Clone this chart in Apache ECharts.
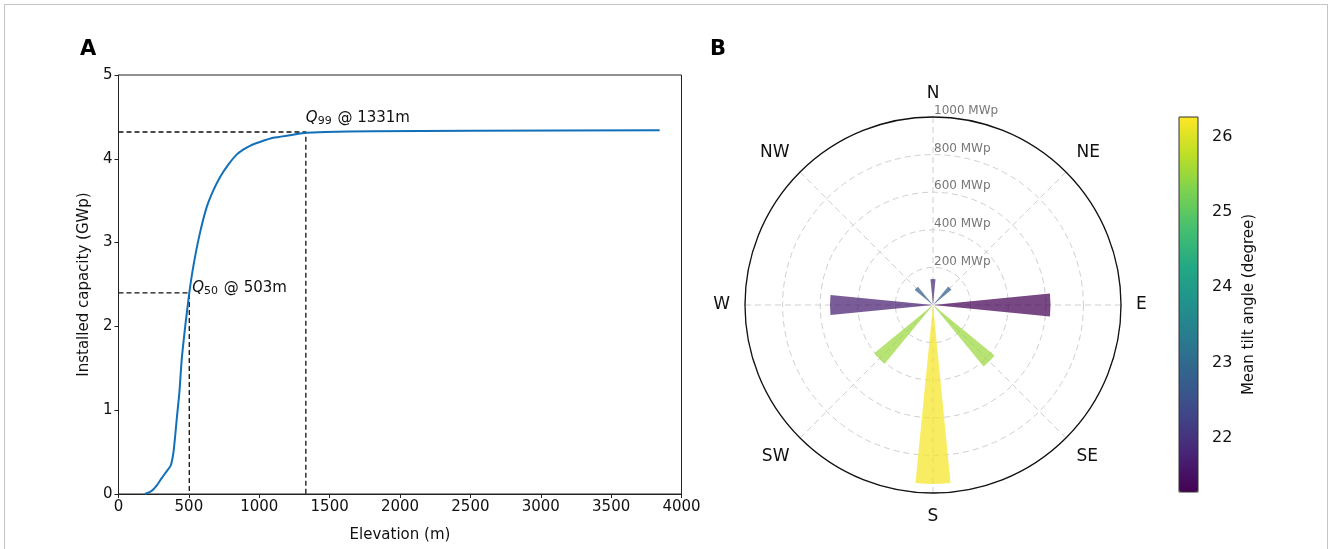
<!DOCTYPE html>
<html>
<head>
<meta charset="utf-8">
<script src="https://cdn.jsdelivr.net/npm/echarts@6/dist/echarts.min.js"></script>
<style>
html,body{margin:0;padding:0;background:#fff;}
#chart{position:absolute;left:0;top:0;width:1328px;height:549px;}
#frame{position:absolute;left:4px;top:4px;width:1322px;height:560px;border:1px solid #c4c4c4;pointer-events:none;}
</style>
</head>
<body>
<div id="chart"></div>
<div id="frame"></div>
<script>
// ---- Panel A: cumulative installed capacity vs elevation ----
const elevation = [188, 230, 250, 271, 307, 342, 371, 389, 402, 414, 432, 449, 474, 503, 531, 574, 626, 673, 721, 780, 839, 886, 934, 1005, 1099, 1218, 1331, 1470, 1800, 2500, 3845];
const capacityGWp = [0, 0.03, 0.06, 0.10, 0.19, 0.27, 0.34, 0.48, 0.68, 0.90, 1.20, 1.60, 2.00, 2.40, 2.71, 3.08, 3.42, 3.62, 3.78, 3.93, 4.05, 4.11, 4.155, 4.20, 4.25, 4.28, 4.31, 4.32, 4.33, 4.335, 4.34];
const q50 = {elev: 503, cap: 2.40, label: '50'};
const q99 = {elev: 1331, cap: 4.32, label: '99'};
const xTicks = [0, 4000, 500];
const yTicks = [0, 5, 1];

// ---- Panel B: orientation rose ----
const directions = ['N', 'NE', 'E', 'SE', 'S', 'SW', 'W', 'NW'];
const capacityMWp = [138, 127, 625, 424, 952, 405, 548, 126];
const meanTilt = [21.9, 22.8, 21.3, 25.5, 26.2, 25.5, 21.7, 22.8];
const radiusTicks = [0, 1000, 200];
const tiltRange = [21.28, 26.26];
const tiltTicks = [22, 23, 24, 25, 26];

const viridis = ['#440154','#482475','#414487','#355f8d','#2a788e','#21918c','#22a884','#44bf70','#7ad151','#bddf26','#fde725'];
const FONT = 'DejaVu Sans';

const chart = echarts.init(document.getElementById('chart'), null, {renderer: 'canvas'});

const lineData = elevation.map((e, i) => [e, capacityGWp[i]]);
function dashed(q) { return [[0, q.cap], [q.elev, q.cap], [q.elev, 0]]; }
const richQ = {
  q: {fontFamily: FONT, fontSize: 15, fontStyle: 'italic', color: '#111'},
  s: {fontFamily: FONT, fontSize: 11, color: '#111', verticalAlign: 'bottom', padding: [6, 1, 0, 0]},
  t: {fontFamily: FONT, fontSize: 15, color: '#111'}
};
function qLabel(q) { return '{q|Q}{s|' + q.label + '}{t| @ ' + q.elev + 'm}'; }

const option = {
  animation: false,
  backgroundColor: '#fff',
  textStyle: {fontFamily: FONT},
  title: [
    {text: 'A', left: 75, top: 34, textStyle: {fontFamily: FONT, fontSize: 21, fontWeight: 'bold', color: '#000'}},
    {text: 'B', left: 705, top: 34, textStyle: {fontFamily: FONT, fontSize: 21, fontWeight: 'bold', color: '#000'}}
  ],
  grid: [
    {left: 118.5, top: 75, width: 563, height: 419, show: true, borderColor: '#222', borderWidth: 1, backgroundColor: 'transparent'},
    {left: 1179, top: 117, width: 19, height: 375, show: true, borderColor: '#333', borderWidth: 1, backgroundColor: 'transparent', z: 10}
  ],
  xAxis: [
    {gridIndex: 0, type: 'value', min: xTicks[0], max: xTicks[1], interval: xTicks[2],
     name: 'Elevation (m)', nameLocation: 'middle', nameGap: 34,
     nameTextStyle: {fontFamily: FONT, fontSize: 15, color: '#111'},
     axisLine: {show: true, lineStyle: {color: '#222', width: 1}},
     axisTick: {show: true, length: 4, inside: false, lineStyle: {color: '#222'}},
     axisLabel: {fontFamily: FONT, fontSize: 15, color: '#111', margin: 6, formatter: v => String(v)},
     splitLine: {show: false}},
    {gridIndex: 1, type: 'value', show: false, min: 0, max: 1}
  ],
  yAxis: [
    {gridIndex: 0, type: 'value', min: yTicks[0], max: yTicks[1], interval: yTicks[2],
     name: 'Installed capacity (GWp)', nameLocation: 'middle', nameGap: 27,
     nameTextStyle: {fontFamily: FONT, fontSize: 15, color: '#111'},
     axisLine: {show: true, lineStyle: {color: '#222', width: 1}},
     axisTick: {show: true, length: 4, inside: false, lineStyle: {color: '#222'}},
     axisLabel: {fontFamily: FONT, fontSize: 15, color: '#111', margin: 6},
     splitLine: {show: false}},
    {gridIndex: 1, type: 'value', position: 'right', min: tiltRange[0], max: tiltRange[1],
     name: 'Mean tilt angle (degree)', nameLocation: 'middle', nameGap: 44, nameRotate: 90,
     nameTextStyle: {fontFamily: FONT, fontSize: 15, color: '#111'},
     axisLine: {show: false},
     axisTick: {show: true, length: 4, inside: false, customValues: tiltTicks, lineStyle: {color: '#222'}},
     axisLabel: {fontFamily: FONT, fontSize: 16, color: '#111', margin: 14, customValues: tiltTicks},
     splitLine: {show: false}}
  ],
  polar: [
    {center: [933, 305], radius: 188},
    {center: [933, 305], radius: 188}
  ],
  angleAxis: [
    {polarIndex: 0, type: 'category', data: directions, startAngle: 112.5, clockwise: true, show: false},
    {polarIndex: 1, type: 'value', min: 0, max: 360, interval: 45, startAngle: 90, clockwise: true, z: 2,
     axisLine: {show: true, lineStyle: {color: '#111', width: 1.3, type: 'solid'}},
     axisTick: {show: false},
     axisLabel: {show: true, margin: 15, fontFamily: FONT, fontSize: 17, color: '#111',
       formatter: v => (v < 360 ? directions[Math.round(v / 45)] : '')},
     splitLine: {show: true, lineStyle: {color: '#cfcfcf', type: [6, 4], width: 1}}}
  ],
  radiusAxis: [
    {polarIndex: 0, type: 'value', min: radiusTicks[0], max: radiusTicks[1], show: false},
    {polarIndex: 1, type: 'value', min: radiusTicks[0], max: radiusTicks[1], interval: radiusTicks[2],
     axisLine: {show: false}, axisTick: {show: false},
     axisLabel: {show: true, fontFamily: FONT, fontSize: 12, color: '#777', align: 'left', verticalAlign: 'bottom', margin: -1,
       formatter: v => (v === 0 ? '' : v + ' MWp')},
     splitLine: {show: true, lineStyle: {color: '#cfcfcf', type: [6, 4], width: 1}},
     z: 1}
  ],
  visualMap: [{
    type: 'continuous', seriesIndex: 4, dimension: 2,
    min: tiltRange[0], max: tiltRange[1],
    inRange: {color: viridis},
    left: 1179, top: 117, itemWidth: 19, itemHeight: 375, padding: 0,
    calculable: false, text: null, showLabel: false, orient: 'vertical'
  }],
  series: [
    {type: 'line', xAxisIndex: 0, yAxisIndex: 0, data: dashed(q50), symbol: 'none', silent: true,
     lineStyle: {color: '#111', width: 1.3, type: [5, 3]}, z: 1},
    {type: 'line', xAxisIndex: 0, yAxisIndex: 0, data: dashed(q99), symbol: 'none', silent: true,
     lineStyle: {color: '#111', width: 1.3, type: [5, 3]}, z: 1},
    {type: 'line', xAxisIndex: 0, yAxisIndex: 0, data: lineData, symbol: 'none', smooth: 0.2,
     lineStyle: {color: '#1170b8', width: 2}, z: 3},
    {type: 'scatter', xAxisIndex: 0, yAxisIndex: 0, symbolSize: 0, silent: true, z: 4,
     itemStyle: {opacity: 1},
     data: [
       {value: [q50.elev, q50.cap], label: {show: true, color: '#111', position: 'right', distance: 3, offset: [0, -5], formatter: qLabel(q50), rich: richQ}},
       {value: [q99.elev, q99.cap], label: {show: true, color: '#111', position: 'top', align: 'left', distance: 5, offset: [0, 0], formatter: qLabel(q99), rich: richQ}}
     ]},
    {type: 'bar', coordinateSystem: 'polar', polarIndex: 0, barWidth: '25%',
     encode: {radius: 0, angle: 1},
     data: directions.map((d, i) => [capacityMWp[i], i, meanTilt[i]]),
     itemStyle: {opacity: 0.72}, z: 3}
  ]
};
chart.setOption(option);
</script>
</body>
</html>
